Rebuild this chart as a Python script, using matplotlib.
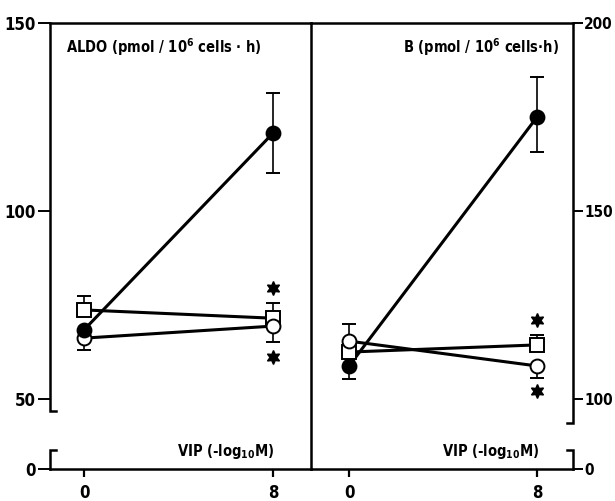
import matplotlib
matplotlib.use("Agg")
import matplotlib.pyplot as plt
from matplotlib.transforms import blended_transform_factory

# VIP dose (-log10 M), 0 = control
vip = [0, 8]

# ALDO (left panel)
aldo_filled = [68.4, 120.7]
aldo_filled_lo = [0, 10.5]
aldo_filled_hi = [0, 10.7]
aldo_square = [73.7, 71.5]
aldo_square_hi = [3.7, 4.0]
aldo_open = [66.2, 69.4]
aldo_open_lo = [3.2, 4.2]
aldo_stars = [79.5, 61.2]

# B (right panel)
b_filled = [108.8, 175.0]
b_filled_lo = [3.5, 9.3]
b_filled_hi = [0, 10.6]
b_square = [112.5, 114.4]
b_square_hi = [0, 2.6]
b_open = [115.4, 108.8]
b_open_lo = [0, 3.2]
b_open_hi = [4.6, 0]
b_stars = [121.0, 102.1]

W, H = 615, 501
plt.rcParams['font.family'] = ['DejaVu Sans']
plt.rcParams['font.stretch'] = 'condensed'
plt.rcParams['font.weight'] = 'bold'
plt.rcParams['mathtext.fontset'] = 'dejavusans'


def rect(x0, x1, ytop, ybot):
    return [x0 / W, 1 - ybot / H, (x1 - x0) / W, (ybot - ytop) / H]


fig = plt.figure(figsize=(W / 100, H / 100), dpi=100)
ax1 = fig.add_axes(rect(50, 311, 23, 469))
ax2 = fig.add_axes(rect(311, 573, 23, 469))

ax1.set_xlim(-1.44, 9.61)
ax1.set_ylim(31.4, 150)
ax2.set_xlim(-1.62, 9.53)
ax2.set_ylim(81.4, 200)

SW = 1.8
LS = 12
for ax in (ax1, ax2):
    for s in ax.spines.values():
        s.set_linewidth(SW)
    ax.spines['left'].set_visible(False)
    ax.spines['right'].set_visible(False)
    ax.set_xticks(vip)
    ax.set_xticklabels(['0', '8'])
    ax.tick_params(axis='x', direction='out', length=6, width=1.6, pad=5,
                   labelsize=LS)
    ax.patch.set_alpha(0)

ax1.spines['right'].set_visible(True)

# left axis ticks
ax1.set_yticks([31.4, 50, 100, 150])
ax1.set_yticklabels(['0', '50', '100', '150'])
ax1.tick_params(axis='y', direction='out', length=9, width=1.4, pad=1,
                labelsize=LS)

ax2.yaxis.tick_right()
ax2.set_yticks([81.4, 100, 150, 200])
ax2.set_yticklabels(['0', '100', '150', '200'])
ax2.tick_params(axis='y', direction='out', length=7.5, width=1.4, pad=0.5,
                labelsize=11)

# broken axis brackets
t1 = blended_transform_factory(ax1.transAxes, ax1.transData)
hk = 6 / 261
ax1.plot([0, 0, hk], [150, 46.8, 46.8], color='k', lw=SW, transform=t1,
         clip_on=False, solid_joinstyle='miter')
ax1.plot([hk, 0, 0], [36.4, 36.4, 31.4], color='k', lw=SW, transform=t1,
         clip_on=False, solid_joinstyle='miter')
t2 = blended_transform_factory(ax2.transAxes, ax2.transData)
hk2 = 6 / 262
ax2.plot([1, 1, 1 - hk2], [200, 93.6, 93.6], color='k', lw=SW, transform=t2,
         clip_on=False, solid_joinstyle='miter')
ax2.plot([1 - hk2, 1, 1], [86.4, 86.4, 81.4], color='k', lw=SW, transform=t2,
         clip_on=False, solid_joinstyle='miter')


def series(ax, y, lo, hi, fc, marker, ms, z=4):
    ax.plot(vip, y, color='k', lw=2.2, zorder=2)
    ax.errorbar(vip, y, yerr=[lo, hi], fmt='none', ecolor='k', elinewidth=1.2,
                capsize=5, capthick=1.4, zorder=1)
    ax.plot(vip, y, linestyle='none', marker=marker, ms=ms, mfc=fc,
            mec='k', mew=1.4, zorder=z)


zeros = [0, 0]
series(ax1, aldo_square, zeros, aldo_square_hi, 'white', 's', 9.5)
series(ax1, aldo_open, aldo_open_lo, zeros, 'white', 'o', 10)
series(ax1, aldo_filled, aldo_filled_lo, aldo_filled_hi, 'k', 'o', 10, z=5)
ax1.plot([8, 8], aldo_stars, linestyle='none', marker=(6, 1, 0), ms=10,
         color='k', zorder=5)

series(ax2, b_filled, b_filled_lo, b_filled_hi, 'k', 'o', 10)
series(ax2, b_square, zeros, b_square_hi, 'white', 's', 9.5)
series(ax2, b_open, b_open_lo, b_open_hi, 'white', 'o', 10)
ax2.plot([8, 8], b_stars, linestyle='none', marker=(6, 1, 0), ms=10,
         color='k', zorder=5)

# panel titles
TS = 10.5
ax1.text(0.06, 0.945, r'ALDO (pmol / 10$^{\mathbf{6}}$ cells $\cdot$ h)',
         transform=ax1.transAxes, ha='left', va='center', fontsize=TS)
ax2.text(0.945, 0.945, r'B (pmol / 10$^{\mathbf{6}}$ cells$\cdot$h)',
         transform=ax2.transAxes, ha='right', va='center', fontsize=TS)
ax1.text(0.86, 0.04, r'VIP (-log$_{\mathbf{10}}$M)', transform=ax1.transAxes,
         ha='right', va='center', fontsize=TS)
ax2.text(0.87, 0.04, r'VIP (-log$_{\mathbf{10}}$M)', transform=ax2.transAxes,
         ha='right', va='center', fontsize=TS)

fig.savefig('out.png', dpi=100)
